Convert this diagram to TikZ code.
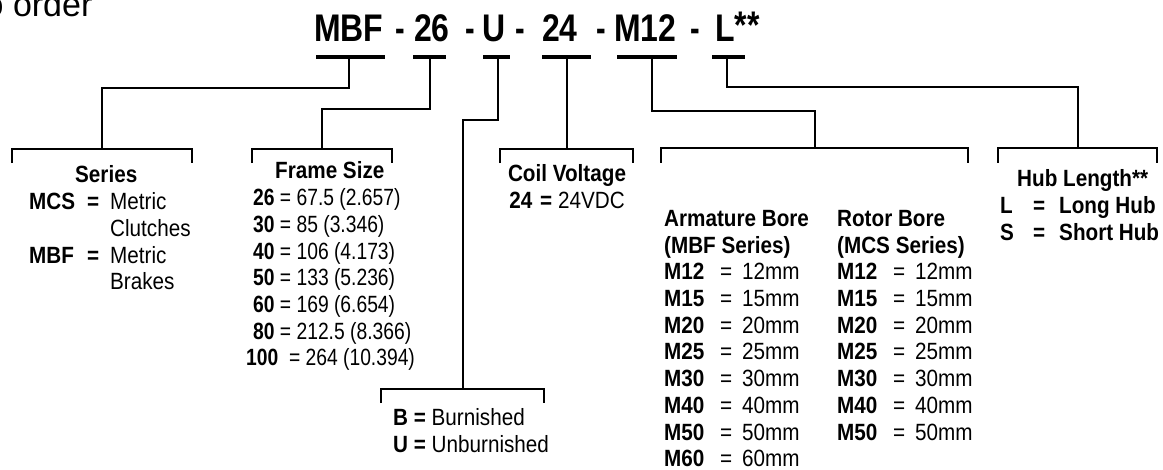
\documentclass[tikz,border=0pt]{standalone}
\usepackage{fontspec}
\usepackage{graphicx}
\setmainfont{Liberation Sans}[FakeStretch=0.88]
\newfontfamily\titlefont{Liberation Sans}[FakeStretch=0.83]
\newfontfamily\orderfont{Liberation Sans}
\newfontfamily\digitfont{Liberation Sans}[FakeStretch=0.82]
\newcommand\borerow[2]{\makebox[56pt][l]{\textbf{#1}}\makebox[22pt][l]{=}\makebox[95pt][l]{#2}}
\newcommand\nhy{\scalebox{0.9}[1]{-}}
\begin{document}
\begin{tikzpicture}[x=1pt,y=-1pt,
  ln/.style={line width=2pt},
  uline/.style={fill=black, draw=none, inner sep=0pt, minimum height=3.2pt},
  brk/.style={draw=none, inner sep=0pt, minimum height=14pt},
  tt/.style={anchor=base west, inner sep=0pt, font=\titlefont\bfseries\fontsize{38.5}{40}\selectfont},
  blk/.style={anchor=base west, inner sep=0pt, font=\fontsize{23.5}{26.7}\selectfont},
]
\useasboundingbox (0,0) rectangle (1163,470);

% heading fragment
\node[anchor=base west, inner sep=0pt, font=\orderfont\fontsize{34}{36}\selectfont] (order) at (-15.5,17) {o order};

% title code
\node[tt] (tMBF) at (314,42) {MBF};
\node[tt] (h1) at (395.5,42) {\nhy};
\node[tt] (t26) at (414,42) {26};
\node[tt] (h2) at (465.5,42) {\nhy};
\node[tt] (tU) at (482,42) {U};
\node[tt] (h3) at (515.5,42) {\nhy};
\node[tt] (t24) at (542,42) {24};
\node[tt] (h4) at (596.5,42) {\nhy};
\node[tt] (tM12) at (614,42) {M12};
\node[tt] (h5) at (690.5,42) {\nhy};
\node[tt] (tL) at (715,42) {L\raisebox{3.5pt}{**}};

% underlines
\node[uline, minimum width=69pt] (uMBF) at (350.5,57) {};
\node[uline, minimum width=33pt] (u26) at (429.5,57) {};
\node[uline, minimum width=27pt] (uU) at (496.5,57) {};
\node[uline, minimum width=49pt] (u24) at (566.5,57) {};
\node[uline, minimum width=60pt] (uM12) at (647,57) {};
\node[uline, minimum width=33pt] (uL) at (728.5,57) {};

% brackets
\node[brk, minimum width=180pt] (bSeries) at (102,156) {};
\node[brk, minimum width=140pt] (bFrame) at (322,156) {};
\node[brk, minimum width=133pt] (bCoil) at (566.5,156) {};
\node[brk, minimum width=307pt] (bBore) at (814.5,155.5) {};
\node[brk, minimum width=159pt] (bHub) at (1077.5,155.5) {};
\node[brk, minimum width=163pt] (bBU) at (462.5,396) {};
\foreach \b in {bSeries,bFrame,bCoil,bBore,bHub,bBU}
  \draw[ln] (\b.south west) |- (\b.north) -| (\b.south east);

% connectors
\draw[ln] ([xshift=-1.5pt]uMBF.south) -- ++(0,29.5) -| (bSeries.north);
\draw[ln] (u26.south) -- ++(0,50.5) -| (bFrame.north);
\draw[ln] ([xshift=1.5pt]uU.south) -- ++(0,61.5) -| (bBU.north);
\draw[ln] (u24.south) -- (bCoil.north);
\draw[ln] ([xshift=5pt]uM12.south) -- ++(0,52.5) -| (bBore.north);
\draw[ln] ([xshift=-1.5pt]uL.south) -- ++(0,28.5) -| (bHub.north);

% Series
\node[blk] (series) at (29,183) {\begin{tabular}[t]{@{}l@{}}
\hspace*{46pt}\textbf{Series}\\
\makebox[58pt][l]{\textbf{MCS}}\makebox[23pt][l]{\textbf{=}}Metric\\
\hspace*{81pt}Clutches\\
\makebox[58pt][l]{\textbf{MBF}}\makebox[23pt][l]{\textbf{=}}Metric\\
\hspace*{81pt}Brakes
\end{tabular}};

% Frame size
\node[blk] (frame) at (253,179) {\begin{tabular}[t]{@{}l@{}}
\hspace*{22pt}\textbf{Frame Size}\\
{\digitfont\textbf{26} = 67.5 (2.657)}\\
{\digitfont\textbf{30} = 85 (3.346)}\\
{\digitfont\textbf{40} = 106 (4.173)}\\
{\digitfont\textbf{50} = 133 (5.236)}\\
{\digitfont\textbf{60} = 169 (6.654)}\\
{\digitfont\textbf{80} = 212.5 (8.366)}\\
{\digitfont\hspace*{-7pt}\textbf{100}\ \ = 264 (10.394)}
\end{tabular}};

% Coil voltage
\node[anchor=base, inner sep=0pt, font=\fontsize{23.5}{26.7}\selectfont] (coil) at (567,182) {\begin{tabular}[t]{@{}c@{}}
\textbf{Coil Voltage}\\
\textbf{24}\hspace{8pt}\textbf{=} 24VDC
\end{tabular}};

% Burnished
\node[blk] (burn) at (393,426) {\begin{tabular}[t]{@{}l@{}}
\textbf{B =} Burnished\\
\textbf{U =} Unburnished
\end{tabular}};

% Bores
\node[blk] (bore) at (664,226.5) {\begin{tabular}[t]{@{}l@{}}
\makebox[173pt][l]{\textbf{Armature Bore}}\textbf{Rotor Bore}\\
\makebox[173pt][l]{\textbf{(MBF Series)}}\textbf{(MCS Series)}\\
\borerow{M12}{12mm}\borerow{M12}{12mm}\\
\borerow{M15}{15mm}\borerow{M15}{15mm}\\
\borerow{M20}{20mm}\borerow{M20}{20mm}\\
\borerow{M25}{25mm}\borerow{M25}{25mm}\\
\borerow{M30}{30mm}\borerow{M30}{30mm}\\
\borerow{M40}{40mm}\borerow{M40}{40mm}\\
\borerow{M50}{50mm}\borerow{M50}{50mm}\\
\borerow{M60}{60mm}
\end{tabular}};

% Hub length
\node[blk] (hub) at (1000,187) {\begin{tabular}[t]{@{}l@{}}
\hspace*{17pt}\textbf{Hub Length**}\\
\textbf{\makebox[33pt][l]{L}\makebox[26pt][l]{=}Long Hub}\\
\textbf{\makebox[33pt][l]{S}\makebox[26pt][l]{=}Short Hub}
\end{tabular}};
\end{tikzpicture}
\end{document}
